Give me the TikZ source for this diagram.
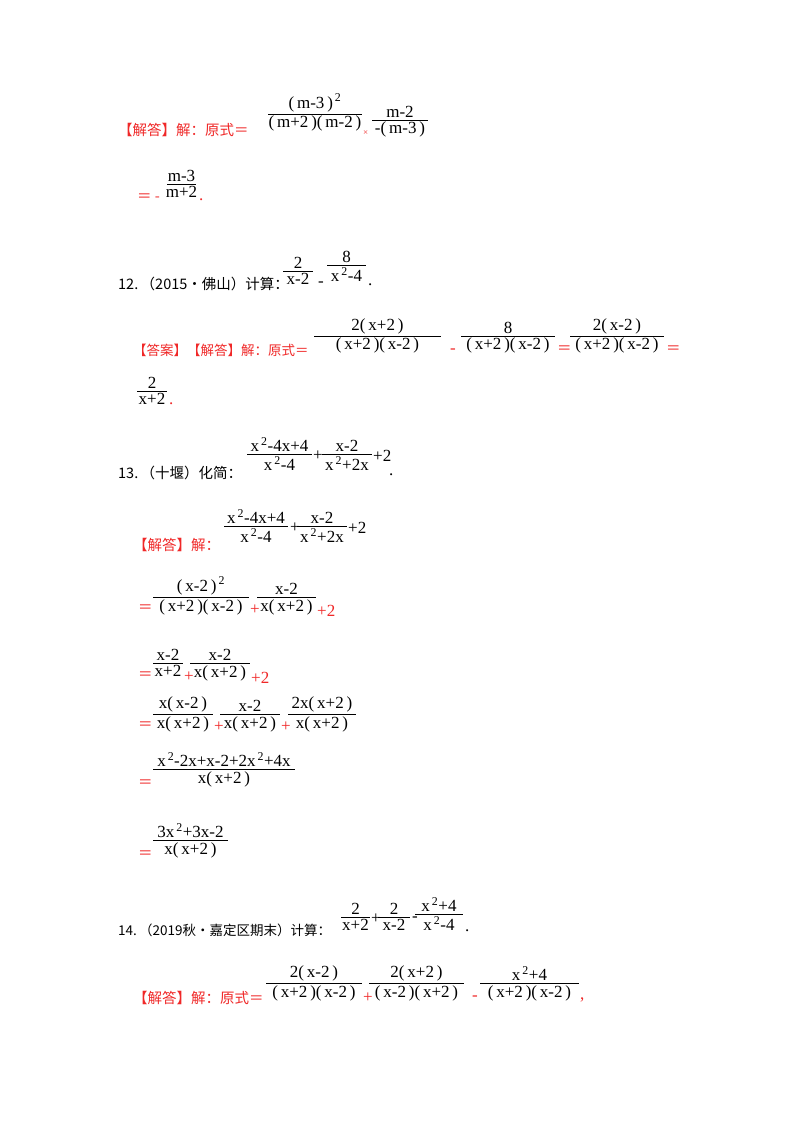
\documentclass[tikz,border=0pt]{standalone}
\usepackage{fontspec}
\setmainfont{Liberation Serif}
\newfontfamily\cjkf{Noto Sans CJK SC}
\newcommand\cjk{\fontsize{14.5}{16}\selectfont\cjkf}
\newcommand\cjks{\fontsize{13.5}{15}\selectfont\cjkf}
\definecolor{ansred}{RGB}{240,40,40}
\newcommand\fr[6]{%
  \draw[line width=0.8pt] (#1,#3) -- (#2,#3);
  \node[anchor=south,inner sep=2pt] at ({(#1+#2)/2},#3) {#4};
  \node[anchor=north,inner sep=2pt] at ({(#1+#2)/2},#3) {#5};}
\newcommand\sq{\textsuperscript{\,2}}
\newcommand\p[1]{(\,#1\,)}
\begin{document}
\begin{tikzpicture}[x=1pt,y=-1pt,font=\fontsize{17}{19}\selectfont,
  r/.style={anchor=west,inner sep=0pt,text=ansred},
  b/.style={anchor=west,inner sep=0pt}]
\useasboundingbox[fill=white] (0,0) rectangle (800,1132);
% line 1
\node[r] (l1) at (118,130) {\cjk 【解答】解：原式＝};
\fr{268}{362}{114}{\p{m-3}\sq}{\p{m+2}\p{m-2}}{}
\node[r] at (363,133) {\small ×};
\fr{372}{428}{120}{m-2}{-\p{m-3}}{}
\node[r] at (137,198) {\cjk ＝ -};
\fr{167}{196}{184}{m-3}{m+2}{}
\node[r] at (199,200) {.};
% 12
\node[b] (q12) at (118,284) {\cjk 12.\,（2015•佛山）计算：};
\fr{283}{313}{271}{2}{x-2}{}
\node[b] at (318,284) {-};
\fr{327}{366}{265}{8}{x\sq-4}{}
\node[b] at (368,285) {.};
\node[r] (a12) at (133,350) {\cjks 【答案】【解答】解：原式＝};
\fr{314}{441}{336}{2\p{x+2}}{\p{x+2}\p{x-2}}{}
\node[r] at (450,351) {-};
\fr{461}{555}{336}{8}{\p{x+2}\p{x-2}}{}
\node[r] at (557,350) {\cjk ＝};
\fr{570}{664}{336}{2\p{x-2}}{\p{x+2}\p{x-2}}{}
\node[r] at (666,350) {\cjk ＝};
\fr{137}{167}{391}{2}{x+2}{}
\node[r] at (169,404) {.};
% 13
\node[b] (q13) at (118,473) {\cjk 13.\,（十堰）化简：};
\fr{247}{312}{454}{x\sq-4x+4}{x\sq-4}{}
\node[b] at (313,456) {+};
\fr{322}{372}{454}{x-2}{x\sq+2x}{}
\node[b] at (373,456) {+2};
\node[b] at (389,475) {.};
\node[r] (a13) at (133,545) {\cjk 【解答】解：};
\fr{224}{288}{526}{x\sq-4x+4}{x\sq-4}{}
\node[b] at (290,528) {+};
\fr{297}{347}{526}{x-2}{x\sq+2x}{}
\node[b] at (348,528) {+2};
\node[r] at (138,609) {\cjk ＝};
\fr{153}{249}{597}{\p{x-2}\sq}{\p{x+2}\p{x-2}}{}
\node[r] at (250,610) {+};
\fr{257}{316}{597}{x-2}{x\p{x+2}}{}
\node[r] at (317,611) {+2};
\node[r] at (138,676) {\cjk ＝};
\fr{153}{183}{663}{x-2}{x+2}{}
\node[r] at (184,677) {+};
\fr{190}{250}{663}{x-2}{x\p{x+2}}{}
\node[r] at (251,678) {+2};
\node[r] at (138,726) {\cjk ＝};
\fr{153}{213}{714}{x\p{x-2}}{x\p{x+2}}{}
\node[r] at (214,727) {+};
\fr{220}{280}{714}{x-2}{x\p{x+2}}{}
\node[r] at (281,727) {+};
\fr{288}{356}{714}{2x\p{x+2}}{x\p{x+2}}{}
\node[r] at (138,784) {\cjk ＝};
\fr{153}{295}{769}{x\sq-2x+x-2+2x\sq+4x}{x\p{x+2}}{}
\node[r] at (138,855) {\cjk ＝};
\fr{153}{228}{840}{3x\sq+3x-2}{x\p{x+2}}{}
% 14
\node[b] (q14) at (118,930) {\cjks 14.\,（2019秋•嘉定区期末）计算：};
\fr{341}{370}{917}{2}{x+2}{}
\node[b] at (371,919) {+};
\fr{378}{410}{917}{2}{x-2}{}
\node[b] at (412,919) {-};
\fr{415}{463}{914}{x\sq+4}{x\sq-4}{}
\node[b] at (465,931) {.};
\node[r] (a14) at (133,998) {\cjk 【解答】解：原式＝};
\fr{266}{362}{983}{2\p{x-2}}{\p{x+2}\p{x-2}}{}
\node[r] at (363,998) {+};
\fr{369}{464}{983}{2\p{x+2}}{\p{x-2}\p{x+2}}{}
\node[r] at (472,998) {-};
\fr{480}{579}{983}{x\sq+4}{\p{x+2}\p{x-2}}{}
\node[r] at (580,1000) {,};
\end{tikzpicture}
\end{document}
